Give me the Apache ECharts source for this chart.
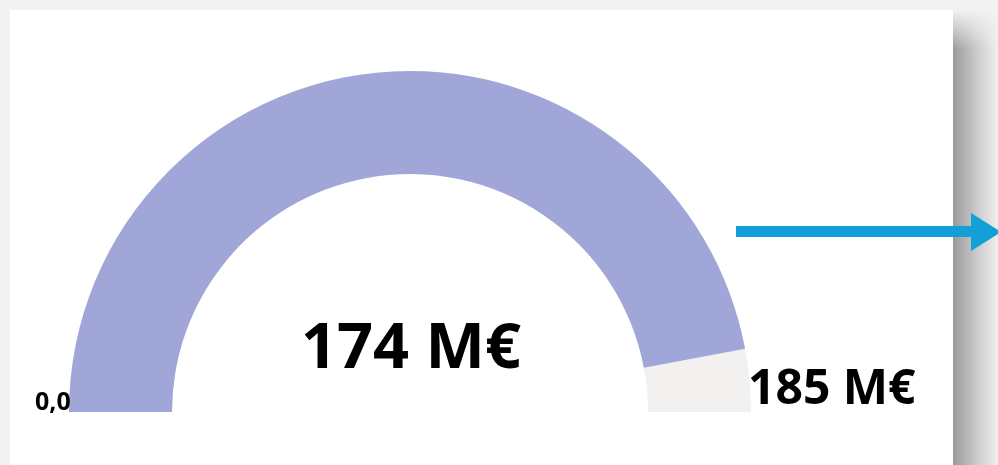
<!DOCTYPE html>
<html>
<head>
    <meta charset="utf-8">
    <title>Gauge</title>
    <script src="https://cdn.jsdelivr.net/npm/echarts@6/dist/echarts.min.js"></script>
    <style>
        body { margin: 0; background: #f2f2f2; }
    </style>
</head>
<body>
<div id="main" style="width: 998px;height:465px;"></div>
<script type="text/javascript">
    // data
    var gaugeMin = [0];
    var gaugeMax = [185];
    var gaugeValue = [174];
    var unitText = [' M€'];

    var font = '"Open Sans", "Noto Sans", sans-serif';

    var myChart = echarts.init(document.getElementById('main'));

    myChart.setOption({
        backgroundColor: '#f2f2f2',
        animation: false,
        graphic: [
            // card + shadow on the right
            { type: 'rect', z: -10, shape: { x: 953, y: 10, width: 45, height: 455 },
              style: { fill: new echarts.graphic.LinearGradient(0, 0, 1, 0, [
                  { offset: 0, color: '#999999' },
                  { offset: 0.5, color: '#c8c8c8' },
                  { offset: 1, color: '#f0f0f0' }
              ]) } },
            { type: 'rect', z: -9, shape: { x: 953, y: 10, width: 45, height: 40 },
              style: { fill: new echarts.graphic.LinearGradient(0, 0, 0, 1, [
                  { offset: 0, color: 'rgba(242,242,242,1)' },
                  { offset: 1, color: 'rgba(242,242,242,0)' }
              ]) } },
            { type: 'rect', z: -8, shape: { x: 10, y: 10, width: 943, height: 455 },
              style: { fill: '#ffffff' } },
            // arrow
            { type: 'rect', z: 5, shape: { x: 736, y: 226, width: 240, height: 11 },
              style: { fill: '#139fd8' } },
            { type: 'polygon', z: 5, shape: { points: [[971, 213], [1001, 232], [971, 251]] },
              style: { fill: '#139fd8' } },
            // min / max labels
            { type: 'text', z: 5, left: 35, top: 390,
              style: { text: gaugeMin[0].toFixed(1).replace('.', ','), fill: '#000',
                       font: 'bold 25px ' + font } },
            { type: 'text', z: 5, left: 748, top: 366,
              style: { text: gaugeMax[0] + unitText[0], fill: '#000',
                       font: 'bold 48px ' + font } }
        ],
        series: [{
            type: 'gauge',
            center: [410, 412],
            radius: 341,
            startAngle: 180,
            endAngle: 0,
            min: gaugeMin[0],
            max: gaugeMax[0],
            progress: {
                show: true,
                width: 103,
                itemStyle: { color: '#a0a7d8' }
            },
            axisLine: {
                lineStyle: { width: 103, color: [[1, '#f2f1f0']] }
            },
            pointer: { show: false },
            anchor: { show: false },
            axisTick: { show: false },
            splitLine: { show: false },
            axisLabel: { show: false },
            title: { show: false },
            detail: {
                offsetCenter: [1, -62],
                color: '#000',
                fontWeight: 'bold',
                fontSize: 63,
                fontFamily: font,
                formatter: function (v) { return Math.round(v) + unitText[0]; }
            },
            data: [{ value: gaugeValue[0] }]
        }]
    });
</script>
</body>
</html>
